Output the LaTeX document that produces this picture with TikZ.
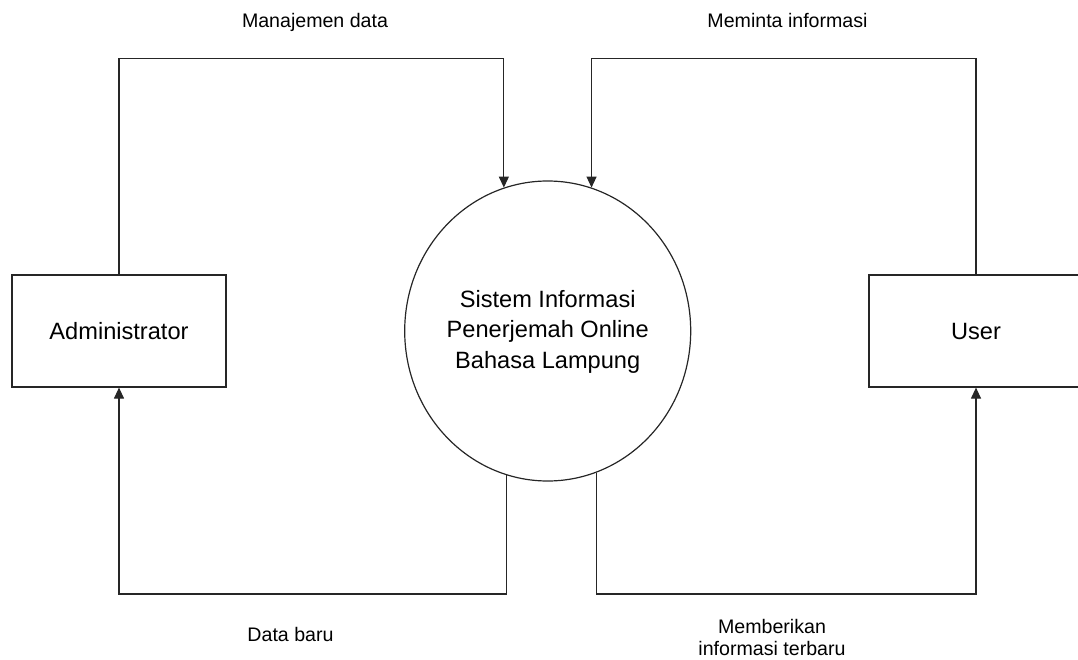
\documentclass[tikz,border=0pt]{standalone}
\usepackage{fontspec}
\setmainfont{Liberation Sans}
\usetikzlibrary{arrows.meta,shapes.geometric}
\begin{document}
\begin{tikzpicture}[x=1pt,y=-1pt,
  flow/.style={line width=1.2pt,draw=black!85},
  arrowflow/.style={flow,-{Triangle[length=11pt,width=10pt]}},
  entity/.style={draw=black!85,line width=1.2pt,minimum width=214pt,minimum height=112pt,
    inner sep=0pt,font=\fontsize{23.6}{28}\selectfont},
  process/.style={ellipse,draw=black!85,line width=1.2pt,minimum width=286pt,
    minimum height=300pt,inner sep=0pt},
  proctext/.style={align=center,inner sep=0pt,font=\fontsize{23.6}{30.5}\selectfont},
  flowlabel/.style={align=center,inner sep=0pt,font=\fontsize{19.6}{22}\selectfont}]

% page frame
\useasboundingbox (0,0) rectangle (1078,660);
\clip (0,0) rectangle (1078,660);

% external entities and the process
\node[entity] (adm) at (119,331) {Administrator};
\node[entity] (usr) at (976,331) {User};
\node[process] (sys) at (547.7,331) {};
\node[proctext] (systxt) at (547.7,331.4) {Sistem Informasi\\Penerjemah Online\\Bahasa Lampung};

% routing levels for the data flows
\coordinate (topline) at (0,58.7);
\coordinate (botline) at (0,594);

% data flows
\draw[arrowflow] (adm.north) -- (adm.north |- topline) -| (sys.107);
\draw[arrowflow] (usr.north) -- (usr.north |- topline) -| (sys.73);
\draw[arrowflow] (sys.254) -- (sys.254 |- botline) -| (adm.south);
\draw[arrowflow] (sys.289) -- (sys.289 |- botline) -| (usr.south);

% flow labels
\node[flowlabel,anchor=base] (lblmanage) at (315,27.7) {Manajemen data};
\node[flowlabel,anchor=base] (lblrequest) at (787.5,27.7) {Meminta informasi};
\node[flowlabel,anchor=base] (lblnew) at (290.5,641.7) {Data baru};
\node[flowlabel] (lblgive) at (772,637.5) {Memberikan\\informasi terbaru};
\end{tikzpicture}
\end{document}
